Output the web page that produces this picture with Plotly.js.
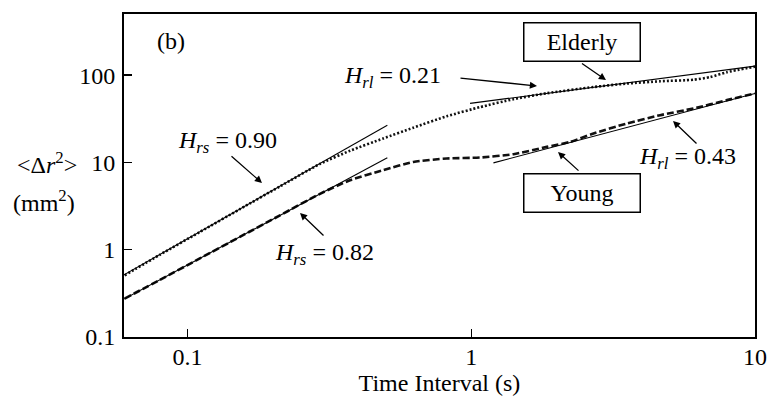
<!DOCTYPE html>
<html>
<head>
<meta charset="utf-8">
<script src="https://cdn.plot.ly/plotly-3.0.1.min.js"></script>
<style>html,body{margin:0;padding:0;background:#fff;}#chart{width:768px;height:398px;}</style>
</head>
<body>
<div id="chart"></div>
<script>
// ---- data ----
var elderlyT   = [0.0600, 0.0798, 0.1105, 0.1529, 0.2117, 0.2929, 0.3737, 0.4894, 0.6249, 0.8198, 1.074, 1.408, 1.846, 2.696, 3.536, 4.634, 6.073, 6.956, 7.964, 10];
var elderlyMSD = [0.508, 0.874, 1.596, 2.914, 5.31, 9.6, 13.6, 18.8, 25.0, 33.8, 43.0, 53.0, 62.0, 73.0, 80.0, 85.0, 88.5, 95.0, 108, 125];
var youngT     = [0.0600, 0.0798, 0.1105, 0.1529, 0.2117, 0.2929, 0.3737, 0.4894, 0.6249, 0.8198, 1.074, 1.408, 1.846, 2.231, 2.696, 3.536, 4.634, 6.073, 7.964, 10];
var youngMSD   = [0.2757, 0.4504, 0.7946, 1.402, 2.474, 4.365, 6.25, 8.14, 10.13, 11.08, 11.38, 12.42, 15.06, 17.18, 21.45, 27.93, 34.78, 41.5, 51.7, 61.7];

var fitElderlyShortT = [0.0597, 0.506], fitElderlyShortY = [0.515, 26.7];
var fitYoungShortT   = [0.0597, 0.506], fitYoungShortY   = [0.272, 11.3];
var fitElderlyLongT  = [0.990, 10],     fitElderlyLongY  = [47.4, 126.8];
var fitYoungLongT    = [1.197, 10],     fitYoungLongY    = [9.87, 61.7];

var xTickVals = [0.1, 1, 10],        xTickText = ['0.1', '1', '10'];
var yTickVals = [0.1, 1, 10, 100],   yTickText = ['0.1', '1', '10', '100'];

// ---- layout helpers ----
var L = 124, R = 13, T = 14, B = 61, W = 768, H = 398;
var pw = W - L - R, ph = H - T - B;
function px(x) { return (x - L) / pw; }
function py(y) { return (H - B - y) / ph; }
var FONT = 'Liberation Serif';
var FS = 24;

var traces = [
  {x: elderlyT, y: elderlyMSD, mode: 'lines', line: {color: '#111', width: 2.6, dash: '2px,2px', shape: 'spline', smoothing: 0.6}},
  {x: youngT, y: youngMSD, mode: 'lines', line: {color: '#111', width: 2.6, dash: '7px,3px', shape: 'spline', smoothing: 0.6}},
  {x: fitElderlyShortT, y: fitElderlyShortY, mode: 'lines', line: {color: '#000', width: 1.1}},
  {x: fitYoungShortT, y: fitYoungShortY, mode: 'lines', line: {color: '#000', width: 1.1}},
  {x: fitElderlyLongT, y: fitElderlyLongY, mode: 'lines', line: {color: '#000', width: 1.1}},
  {x: fitYoungLongT, y: fitYoungLongY, mode: 'lines', line: {color: '#000', width: 1.1}}
];

function arrow(tx, ty, fx, fy) {
  return {xref: 'paper', yref: 'paper', x: px(tx), y: py(ty), ax: fx - tx, ay: fy - ty,
          text: '', showarrow: true, arrowhead: 2, arrowsize: 1.1, arrowwidth: 1.3, arrowcolor: '#000'};
}
function label(cx, cy, txt, extra) {
  var a = {xref: 'paper', yref: 'paper', x: px(cx), y: py(cy), xanchor: 'center', yanchor: 'middle',
           text: txt, showarrow: false, font: {family: FONT, size: FS, color: '#000'}};
  if (extra) for (var k in extra) a[k] = extra[k];
  return a;
}

var annotations = [
  label(171, 41, '(b)'),
  label(582, 42, 'Elderly', {width: 115, height: 37, bordercolor: '#000', borderwidth: 1.5, borderpad: 0, bgcolor: '#fff'}),
  label(582, 193, 'Young', {width: 115, height: 37, bordercolor: '#000', borderwidth: 1.5, borderpad: 0, bgcolor: '#fff'}),
  label(227, 142, '<i>H</i><sub><i>rs</i></sub> = 0.90'),
  label(392, 77, '<i>H</i><sub><i>rl</i></sub> = 0.21'),
  label(687, 158, '<i>H</i><sub><i>rl</i></sub> = 0.43'),
  label(324, 254, '<i>H</i><sub><i>rs</i></sub> = 0.82'),
  label(47, 163, '&lt;Δ<i>r</i><sup>2</sup>&gt;'),
  label(44, 201, '(mm<sup>2</sup>)'),
  arrow(606, 80, 580.5, 62.5),
  arrow(537, 86, 459, 78),
  arrow(262, 183, 230, 155),
  arrow(558, 152, 580, 172),
  arrow(673, 121, 698, 145),
  arrow(300, 213, 325, 237)
];

var axisCommon = {
  type: 'log', showgrid: false, zeroline: false, showline: true, mirror: true,
  linecolor: '#000', linewidth: 2, ticks: 'inside', ticklen: 8, tickwidth: 1.5, tickcolor: '#000',
  tickfont: {family: FONT, size: FS, color: '#000'}, tickmode: 'array'
};

var layout = {
  width: W, height: H,
  margin: {l: L, r: R, t: T, b: B, pad: 0},
  paper_bgcolor: '#fff', plot_bgcolor: '#fff',
  showlegend: false,
  font: {family: FONT, color: '#000'},
  xaxis: Object.assign({}, axisCommon, {
    range: [Math.log10(0.0597), 1], tickvals: xTickVals, ticktext: xTickText, ticklabelstandoff: -3,
    title: {text: 'Time Interval (s)', font: {family: FONT, size: FS, color: '#000'}, standoff: 4}
  }),
  yaxis: Object.assign({}, axisCommon, {
    range: [-1, 2.70], tickvals: yTickVals, ticktext: yTickText, ticklabelstandoff: 2
  }),
  annotations: annotations
};

Plotly.newPlot('chart', traces, layout, {displayModeBar: false, staticPlot: true});
</script>
</body>
</html>
